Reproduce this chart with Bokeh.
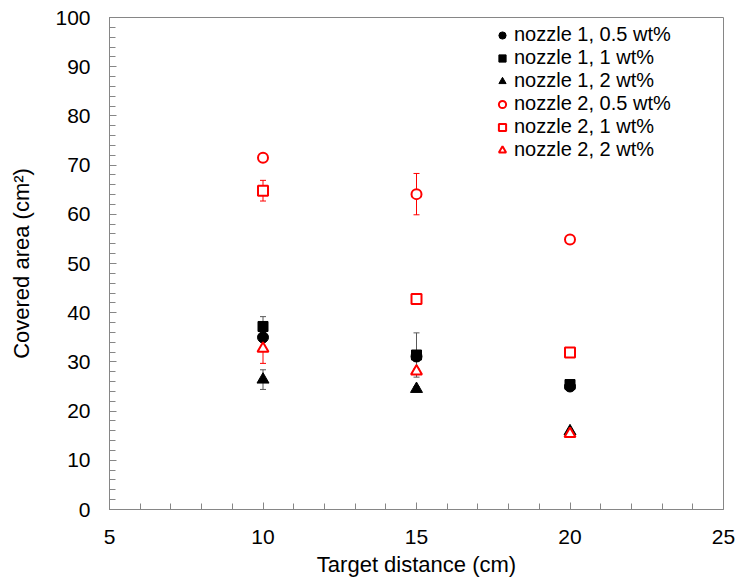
from bokeh.plotting import figure
from bokeh.models import (FixedTicker, Whisker, TeeHead, ColumnDataSource,
                          Legend, LegendItem, Range1d)
from bokeh.embed import file_html
from bokeh.resources import INLINE

# ---- data ----
distance = [10, 15, 20]

n1_05 = [35.0, 31.1, 25.0]
n1_1 = [37.2, 31.4, 25.4]
n1_2 = [26.4, 24.5, 15.9]
n2_05 = [71.5, 64.1, 54.9]
n2_1 = [64.8, 42.8, 31.9]
n2_2 = [32.7, 28.1, 15.4]

n1_05_err = [1.0, 1.0, 0.5]
n1_1_err = [2.0, 4.5, 0.5]
n1_2_err = [2.0, 0.5, 0.5]
n2_05_err = [0.5, 4.2, 0.5]
n2_1_err = [2.1, 0.5, 0.5]
n2_2_err = [3.0, 0.5, 0.5]

labels = ["nozzle 1, 0.5 wt%", "nozzle 1, 1 wt%", "nozzle 1, 2 wt%",
          "nozzle 2, 0.5 wt%", "nozzle 2, 1 wt%", "nozzle 2, 2 wt%"]

x_ticks = [5, 10, 15, 20, 25]
x_minor = [6, 7, 8, 9, 11, 12, 13, 14, 16, 17, 18, 19, 21, 22, 23, 24]
y_ticks = [0, 10, 20, 30, 40, 50, 60, 70, 80, 90, 100]
y_minor = [v for v in range(0, 101, 2)]

FONT = "Liberation Sans"
GRAY = "#868686"
RED = "#FF0000"

p = figure(width=737, height=580, output_backend="svg", toolbar_location=None,
           x_range=Range1d(5, 25), y_range=Range1d(0, 100),
           min_border_left=109, min_border_right=14,
           min_border_top=17, min_border_bottom=71)
p.grid.visible = False
p.outline_line_color = GRAY
p.outline_line_width = 1
p.background_fill_color = "white"
p.border_fill_color = "white"

for ax, ticks, minor in ((p.xaxis[0], x_ticks, x_minor), (p.yaxis[0], y_ticks, y_minor)):
    ax.ticker = FixedTicker(ticks=ticks, minor_ticks=minor)
    ax.axis_line_color = GRAY
    ax.major_tick_line_color = GRAY
    ax.minor_tick_line_color = GRAY
    ax.major_tick_in = 7
    ax.major_tick_out = 0
    ax.minor_tick_in = 6
    ax.minor_tick_out = 0
    ax.major_label_text_font = FONT
    ax.major_label_text_font_size = "21px"
    ax.major_label_text_color = "black"
    ax.axis_label_text_font = FONT
    ax.axis_label_text_font_size = "22px"
    ax.axis_label_text_font_style = "normal"
    ax.axis_label_text_color = "black"

p.xaxis.axis_label = "Target distance (cm)"
p.yaxis.axis_label = "Covered area (cm²)"
p.xaxis.major_label_standoff = 20
p.yaxis.major_label_standoff = 19
p.xaxis.axis_label_standoff = 5
p.yaxis.axis_label_standoff = 18

series = [
    (n1_05, n1_05_err, "circle", "black", "black", 11, "#595959"),
    (n1_1, n1_1_err, "square", "black", "black", 10, "#595959"),
    (n1_2, n1_2_err, "triangle", "black", "black", 12, "#595959"),
    (n2_05, n2_05_err, "circle", RED, "white", 10, RED),
    (n2_1, n2_1_err, "square", RED, "white", 10, RED),
    (n2_2, n2_2_err, "triangle", RED, "white", 11, RED),
]

# error bars (under markers)
for vals, errs, marker, lc, fc, size, ec in series:
    src = ColumnDataSource(dict(x=distance,
                                upper=[v + e for v, e in zip(vals, errs)],
                                lower=[v - e for v, e in zip(vals, errs)]))
    w = Whisker(source=src, base="x", upper="upper", lower="lower",
                line_color=ec, line_width=1,
                upper_head=TeeHead(size=6, line_color=ec, line_width=1),
                lower_head=TeeHead(size=6, line_color=ec, line_width=1),
                level="underlay")
    p.add_layout(w)

items = []
for (vals, errs, marker, lc, fc, size, ec), lab in zip(series, labels):
    lw = 1 if fc == "black" else 2
    r = p.scatter(distance, vals, marker=marker, size=size,
                  line_color=lc, fill_color=fc, line_width=lw)
    items.append(LegendItem(label=lab, renderers=[r]))

legend = Legend(items=items, location=(384, 348),
                label_text_font=FONT, label_text_font_size="20px",
                label_text_color="black",
                glyph_width=18, glyph_height=20, label_height=23,
                label_standoff=3, spacing=0, padding=0, margin=0,
                border_line_color=None, background_fill_alpha=0)
p.add_layout(legend)

open("out.html", "w").write(file_html(p, INLINE))
